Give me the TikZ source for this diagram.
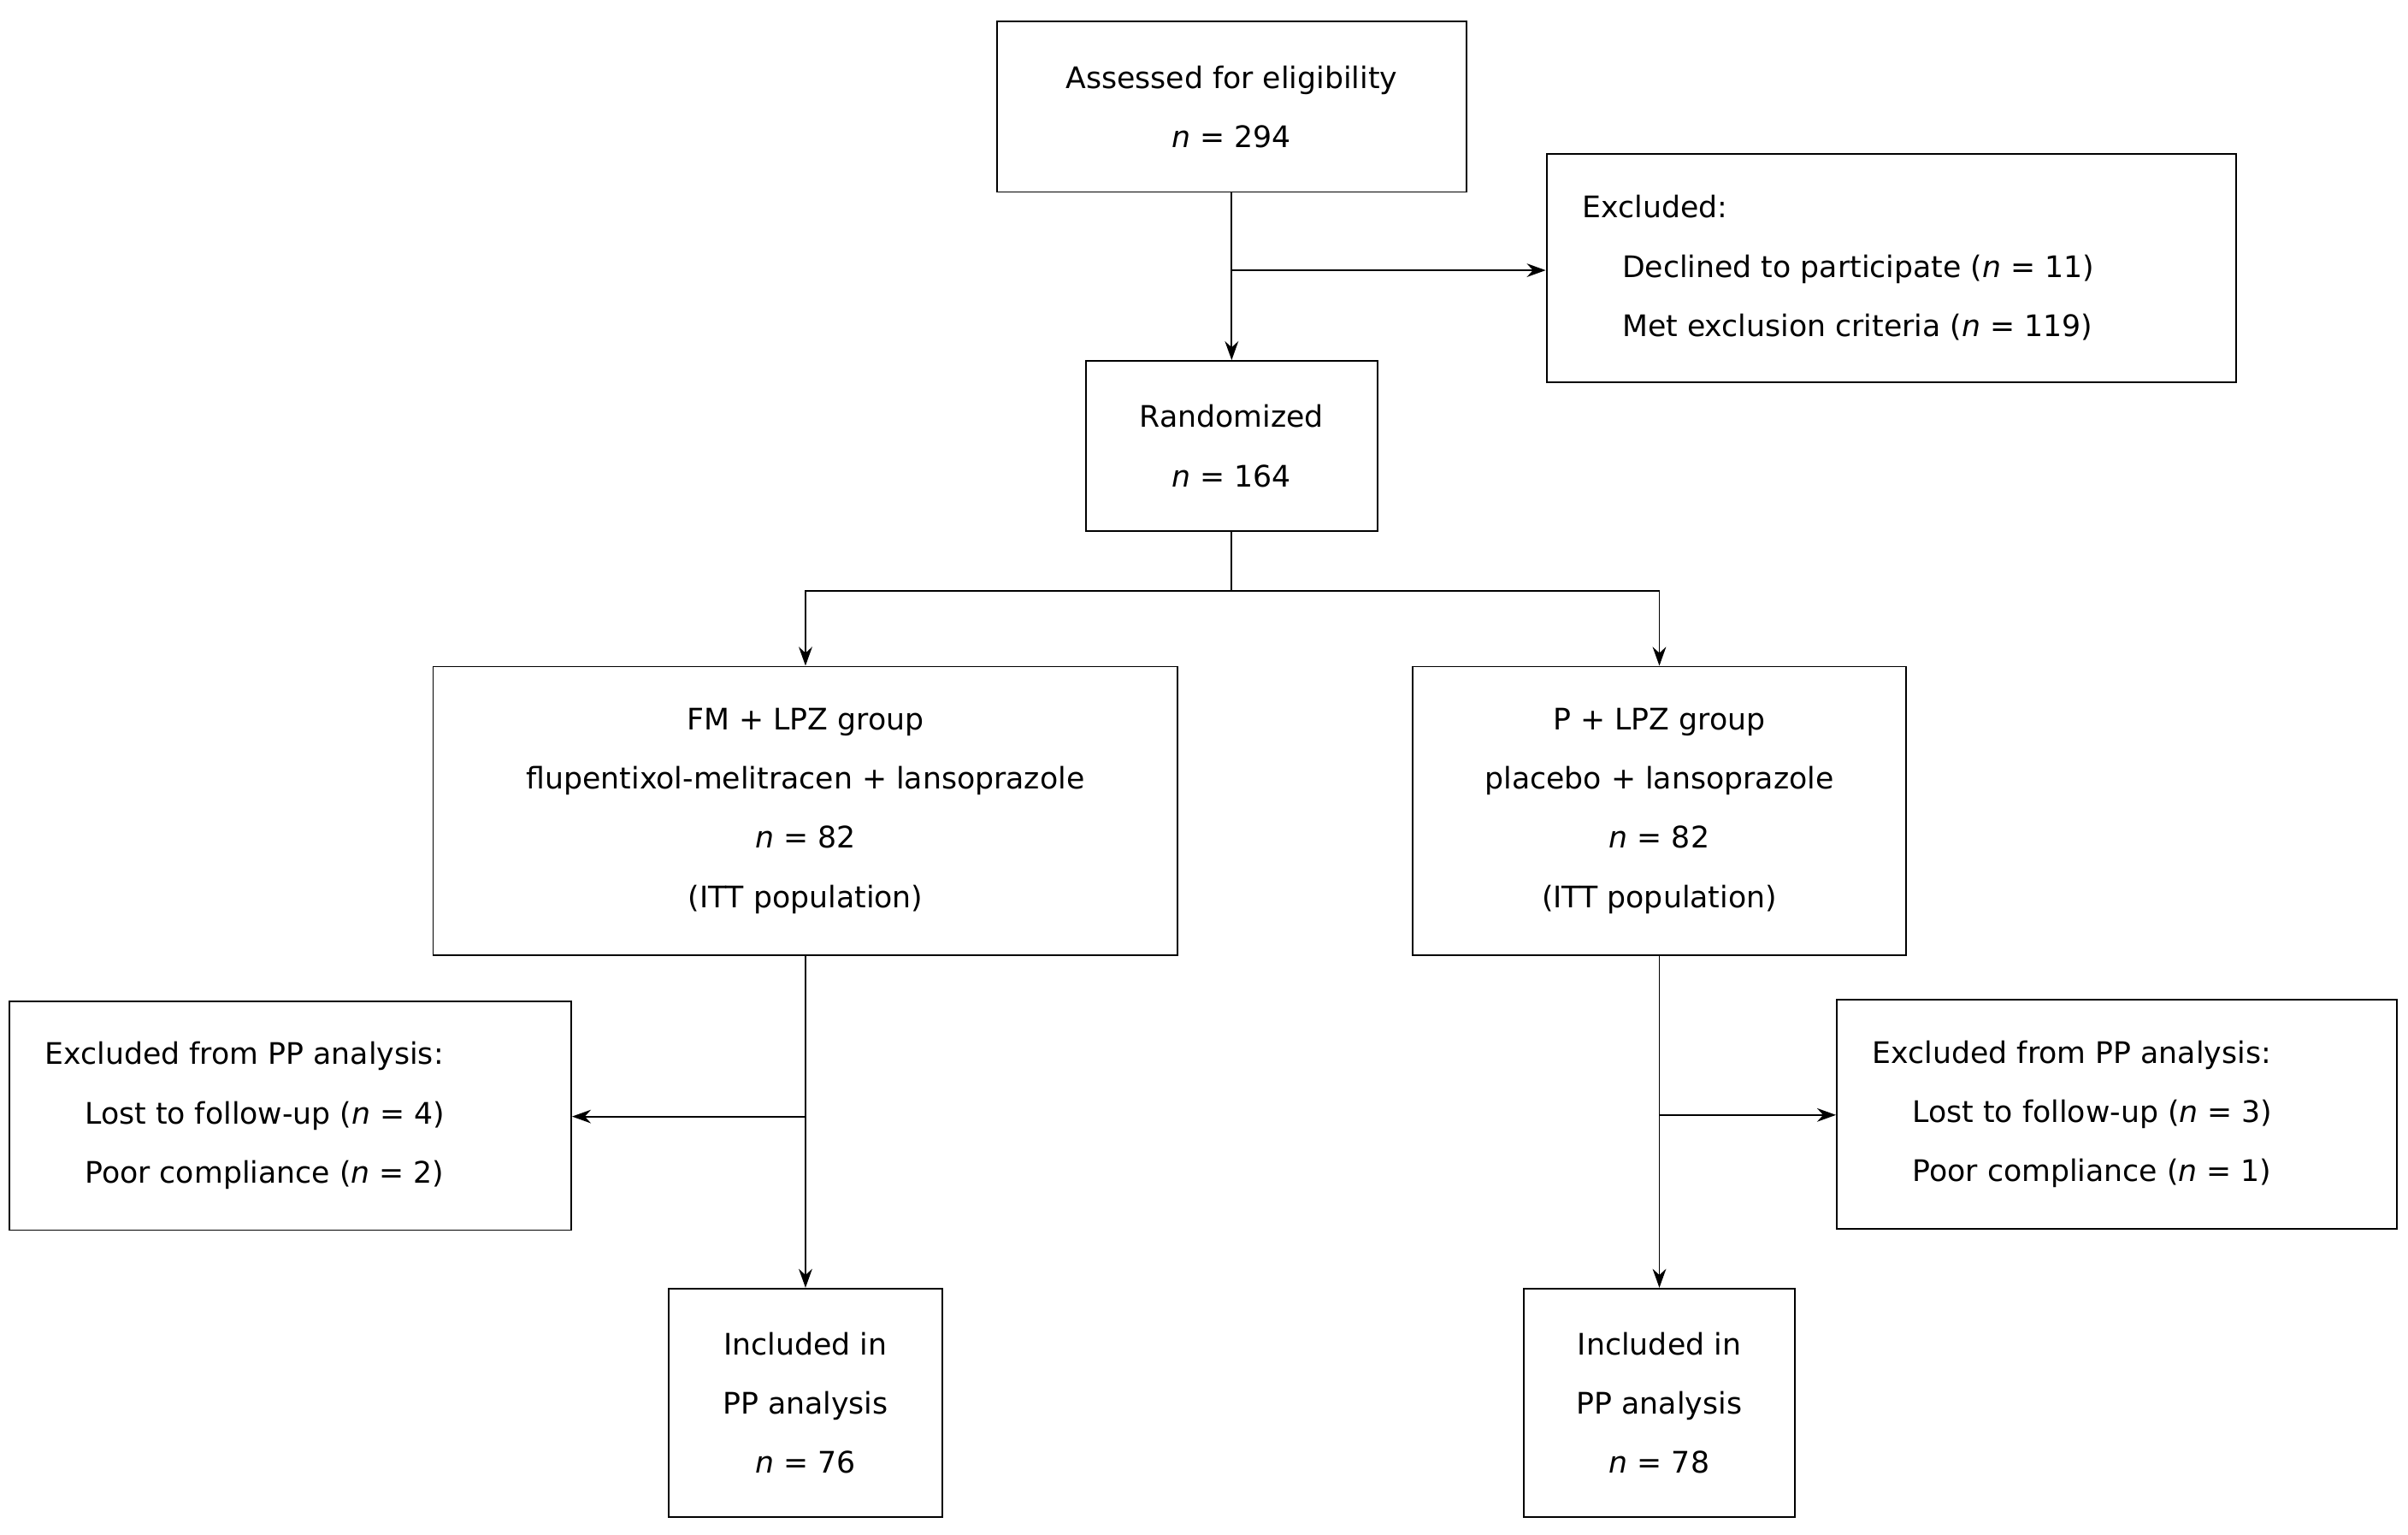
\documentclass[tikz,border=0pt]{standalone}
\usepackage{fontspec}
\setmainfont{DejaVu Sans}
\usetikzlibrary{arrows.meta}
\begin{document}
\begin{tikzpicture}[x=0.02cm,y=-0.02cm,
  box/.style={draw,line width=0.6pt,inner sep=0pt,align=center,font=\fontsize{11}{22}\selectfont},
  txt/.style={inner sep=0pt,align=left,anchor=west,font=\fontsize{11}{22}\selectfont},
  arr/.style={line width=0.6pt,-{Stealth[length=7pt,width=5pt]}},
  ln/.style={line width=0.6pt}]
\useasboundingbox (0,0) rectangle (1568,999);
\node[box,minimum width=6.12cm,minimum height=2.22cm] (A) at (802,69.5) {Assessed for eligibility\\\textit{n} = 294};
\node[box,minimum width=8.98cm,minimum height=2.98cm] (E) at (1231.5,174.5) {};
\node[txt] (Et) at (1030,174.5) {Excluded:\\\hspace{0.52cm}Declined to participate (\textit{n} = 11)\\\hspace{0.52cm}Met exclusion criteria (\textit{n} = 119)};
\node[box,minimum width=3.8cm,minimum height=2.22cm] (R) at (802,290.5) {Randomized\\\textit{n} = 164};
\node[box,minimum width=9.7cm,minimum height=3.76cm] (FM) at (524.5,528) {FM + LPZ group\\flupentixol-melitracen + lansoprazole\\\textit{n} = 82\\(ITT population)};
\node[box,minimum width=6.42cm,minimum height=3.76cm] (P) at (1080.5,528) {P + LPZ group\\placebo + lansoprazole\\\textit{n} = 82\\(ITT population)};
\node[box,minimum width=7.32cm,minimum height=2.98cm] (EL) at (189,726.5) {};
\node[txt] (ELt) at (29,726.5) {Excluded from PP analysis:\\\hspace{0.52cm}Lost to follow-up (\textit{n} = 4)\\\hspace{0.52cm}Poor compliance (\textit{n} = 2)};
\node[box,minimum width=7.3cm,minimum height=2.98cm] (ER) at (1378.5,725.5) {};
\node[txt] (ERt) at (1219,725.5) {Excluded from PP analysis:\\\hspace{0.52cm}Lost to follow-up (\textit{n} = 3)\\\hspace{0.52cm}Poor compliance (\textit{n} = 1)};
\node[box,minimum width=3.56cm,minimum height=2.98cm] (IL) at (524.5,913.5) {Included in\\PP analysis\\\textit{n} = 76};
\node[box,minimum width=3.54cm,minimum height=2.98cm] (IR) at (1080.5,913.5) {Included in\\PP analysis\\\textit{n} = 78};
\coordinate (b1) at (802,176);
\coordinate (b2) at (802,385);
\coordinate (b3) at (524.5,727);
\coordinate (b4) at (1080.5,726);
\draw[arr] (A) -- (R);
\draw[arr] (b1) -- (E.west |- b1);
\draw[ln] (R) -- (b2);
\draw[arr] (b2) -| (FM.north);
\draw[arr] (b2) -| (P.north);
\draw[arr] (FM) -- (IL);
\draw[arr] (b3) -- (EL.east |- b3);
\draw[arr] (P) -- (IR);
\draw[arr] (b4) -- (ER.west |- b4);
\end{tikzpicture}
\end{document}
